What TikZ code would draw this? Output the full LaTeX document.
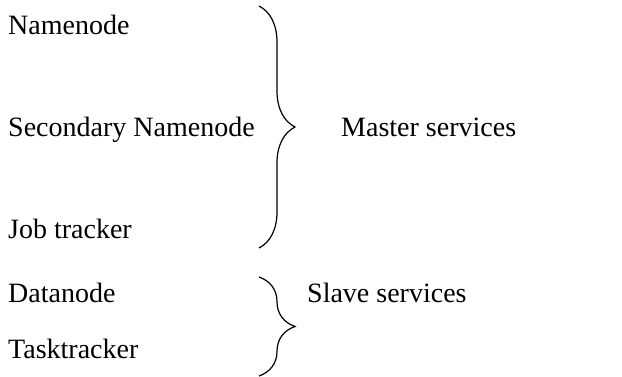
\documentclass[tikz,border=0pt]{standalone}
\usepackage{fontspec}
\setmainfont{Liberation Serif}
\usepackage{tikz}
\usetikzlibrary{positioning}
\usetikzlibrary{decorations.pathreplacing}

\begin{document}
\begin{tikzpicture}[x=1pt, y=-1pt,
        every node/.style={anchor=base west,
        inner sep=0pt,
        font=\fontsize{28}{33}\selectfont},
        servicebrace/.style={decorate,
        decoration={brace, amplitude=36pt},
        line width=1.2pt}]
        \useasboundingbox (0,0) rectangle (622,377);
        \node (nn) at (8,35) {Namenode};
        \node (snn) at (8,137) {Secondary Namenode};
        \node (jt) at (8,239) {Job tracker};
        \node (dn) at (8,302) {Datanode};
        \node (tt) at (8,358) {Tasktracker};
        \coordinate (mtop) at (259,6);
        \coordinate (mbot) at (259,248);
        \coordinate (stop) at (259,277);
        \coordinate (sbot) at (259,376);
        \draw[servicebrace] (mtop) -- (mbot);
        \draw[servicebrace] (stop) -- (sbot);
        \node (master) at (341,137) {Master services};
        \node (slave) at (307,302) {Slave services};
    \end{tikzpicture}
\end{document}
